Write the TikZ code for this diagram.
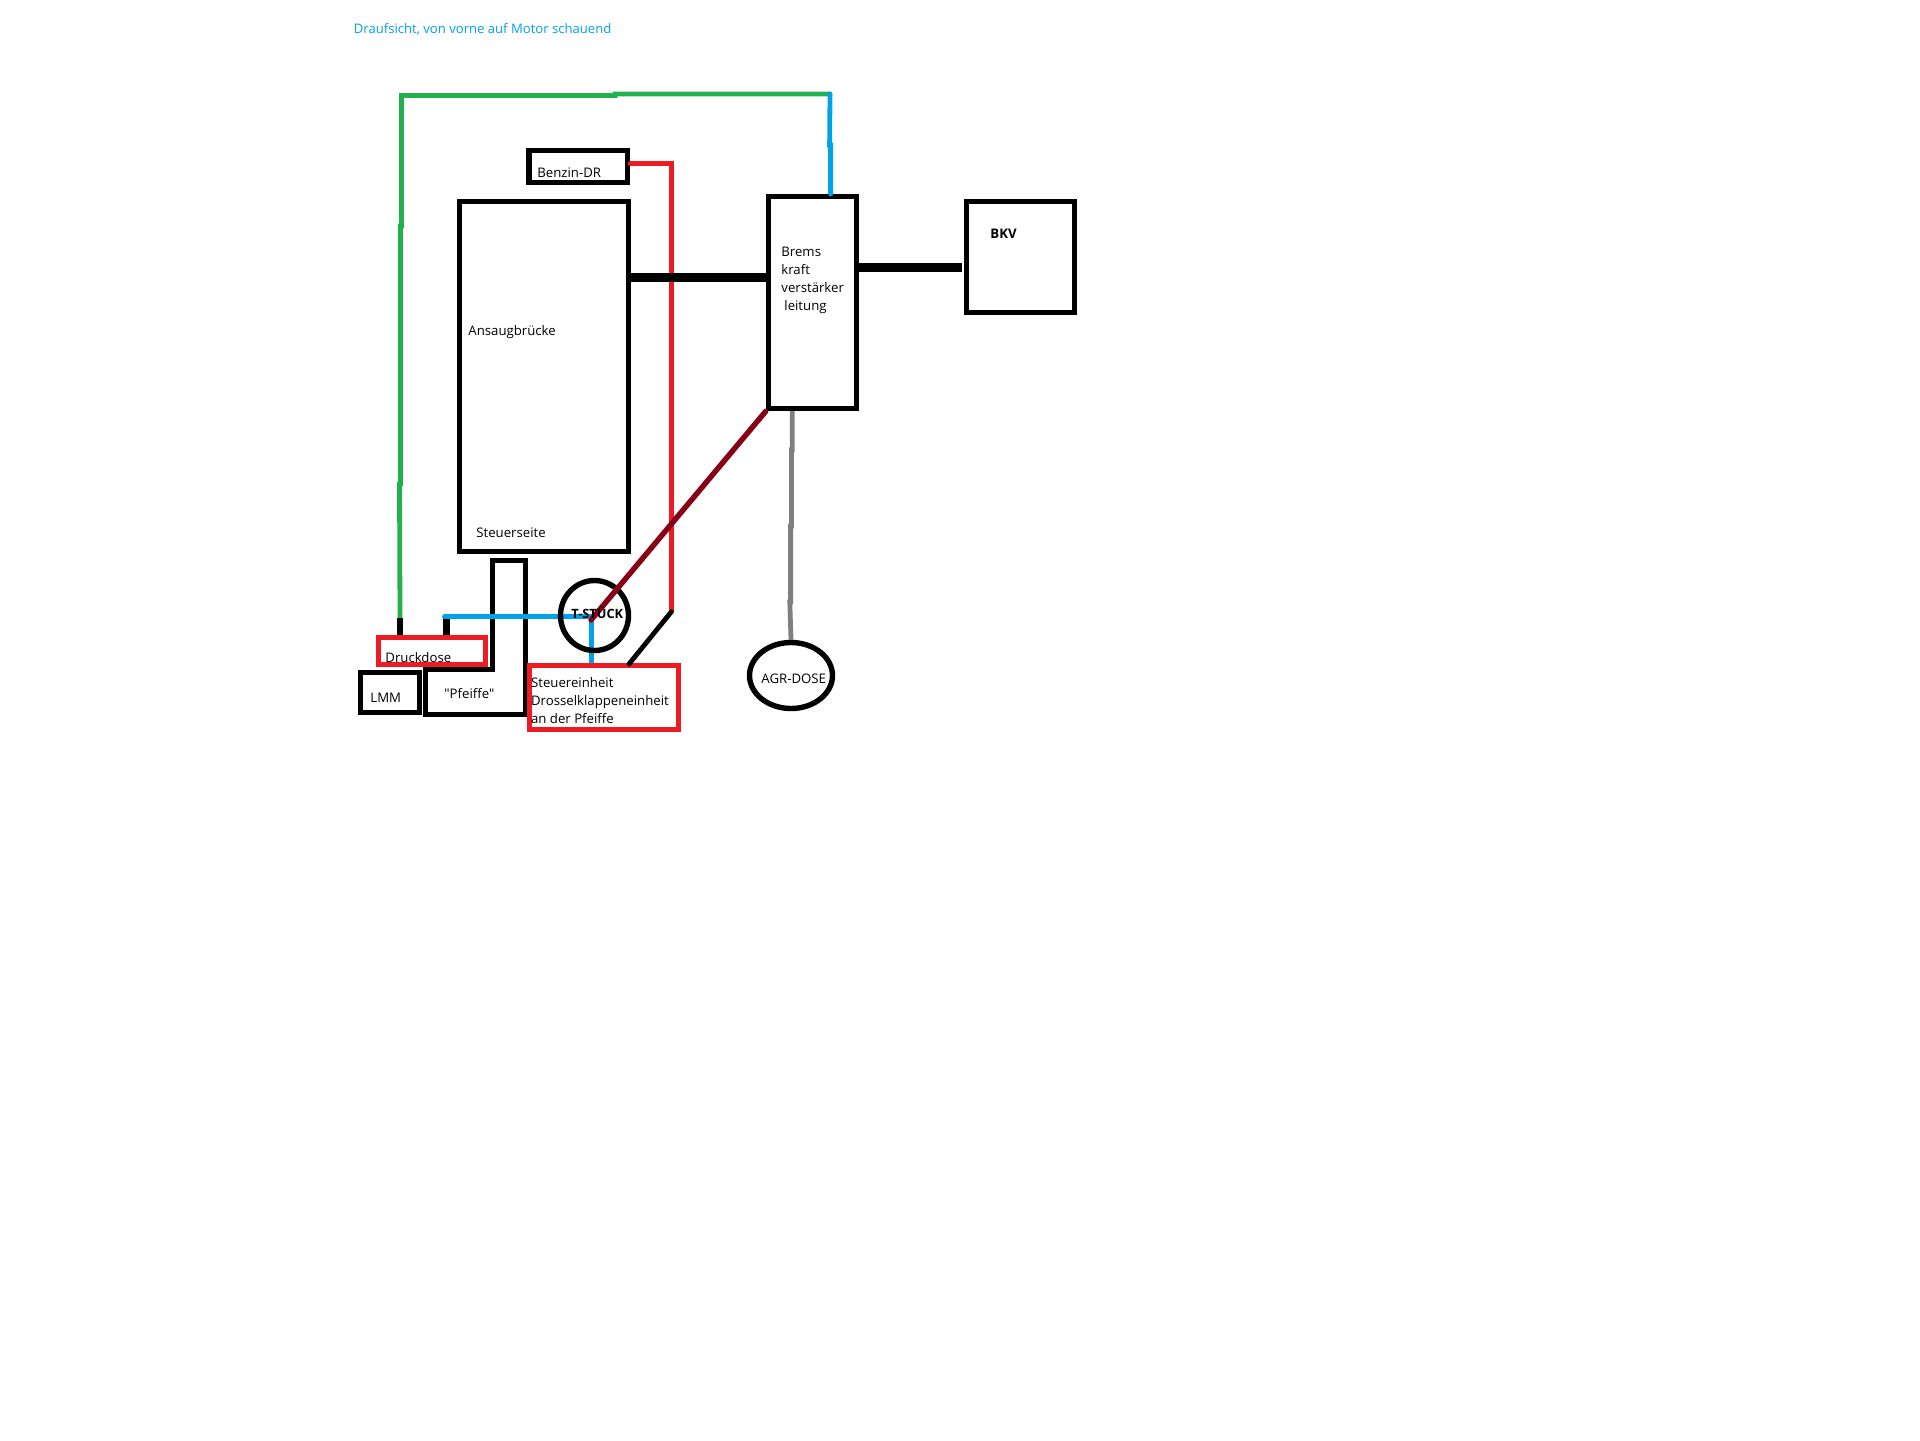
\documentclass[tikz,border=0pt]{standalone}
\usepackage{fontspec}
\setmainfont{Open Sans}
\newfontfamily\plainfont{Open Sans}
\usetikzlibrary{shapes.geometric}
\definecolor{pblue}{HTML}{00A2E8}
\definecolor{pred}{HTML}{ED1C24}
\definecolor{pgreen}{HTML}{22B14C}
\definecolor{pdark}{HTML}{880015}
\definecolor{pgray}{HTML}{7F7F7F}
\begin{document}
\begin{tikzpicture}[x=0.5pt,y=-0.5pt,
    box/.style={draw=black,line width=2.7pt,inner sep=0pt},
    redbox/.style={box,draw=pred},
    oval/.style={box,ellipse},
    pipe/.style={line width=2.4pt,line cap=round},
    stub/.style={line width=3.2pt},
    fat/.style={line width=4.5pt},
    txt/.style={anchor=west,inner sep=0pt,text=black,font=\fontsize{6.6}{9}\selectfont,align=left}]
    \useasboundingbox (0,0) rectangle (1920,1440);
    \node[txt,text=pblue,font=\fontsize{6.55}{9}\selectfont] (titel) at (353.5,29) {Draufsicht, von vorne auf Motor schauend};

    \node[box,minimum width=84.5pt,minimum height=175pt] (ansaug) at (544,376.5) {};
    \node[box,minimum width=49.25pt,minimum height=16pt] (benzin) at (578.25,166.5) {};
    \node[box,minimum width=44pt,minimum height=106pt] (brems) at (812.5,302.5) {};
    \node[box,minimum width=54pt,minimum height=55.5pt] (bkv) at (1020.5,257) {};
    \node[box,minimum width=29.5pt,minimum height=19.85pt] (lmm) at (390,692.4) {};
    \node[oval,minimum width=41.5pt,minimum height=33pt] (agr) at (791,675.5) {};

    % Pfeiffe
    \draw[line width=2.7pt] (492.5,560.7) -- (525.3,560.7) -- (525.3,714.3) -- (425.7,714.3)
        -- (425.7,669.3) -- (492.5,669.3) -- cycle;
    \node[redbox,minimum width=53.5pt,minimum height=13.5pt] (druck) at (432,651) {};
    \node[redbox,minimum width=74.5pt,minimum height=32pt] (steuer) at (604,697.5) {};

    \coordinate (gs) at (400,618);
    \coordinate (bt) at (830,94);
    \coordinate (bl) at (444.5,616.3);
    \coordinate (tj) at (591.7,616.3);
    \coordinate (tr) at (591,620);
    \coordinate (rk) at (671.4,611.7);
    \coordinate (sk) at (629,664);

    % lines
    \draw[pipe,pgreen] (gs) -- (399.5,484) -- (400.5,484) -- (400.5,226) -- (401.5,226)
        -- (401.5,95.5) -- (615,95.5) -- (615,94) -- (bt);
    \draw[stub] (gs) -- (gs |- druck.north);
    \draw[pipe,pblue] (bt) -- (829.6,145) -- (830.6,145) -- (830.6,194);
    \draw[pipe,pred] (benzin.east |- 0,163.3) -- (671.4,163.3) -- (rk);
    \draw[pipe] (rk) -- (sk);
    \draw[fat] (ansaug.east |- 0,277.3) -- (brems.west |- 0,277.3);
    \draw[fat] (brems.east |- 0,267.3) -- (962,267.3);
    \draw[pipe,pgray,line cap=butt] (792.3,411) -- (792.3,450) -- (791.5,450) -- (791.5,526)
        -- (790.6,526) -- (790.6,602) -- (789.8,602) -- (agr.north);
    \draw[stub] (446.3,618) -- (446.3,0 |- druck.north);
    \draw[pipe,pblue] (bl) -- (tj);
    \draw[pipe,pblue,line cap=butt] (tj) -- (tj |- steuer.north);
    \node[oval,minimum width=34pt,minimum height=35pt] (tstueck) at (594.5,615.5) {};
    \draw[pipe,pdark,line width=2.7pt] (tr) -- (brems.south west);

    % text
    \node[txt] (lansaug) at (468,332) {Ansaugbrücke};
    \node[txt] (lsteuerseite) at (476,533) {Steuerseite};
    \node[txt] (lbenzin) at (537,172.7) {Benzin-DR};
    \node[txt] (lbrems) at (781,280.5) {Brems\\kraft\\verstärker\\\hspace{1.5pt}leitung};
    \node[txt,font=\fontsize{6.6}{9}\selectfont\bfseries] (lbkv) at (990,234) {BKV};
    \node[txt] (lagr) at (761,679) {AGR-DOSE};
    \node[txt,font=\fontsize{6.4}{9}\selectfont\bfseries] (ltstueck) at (571,613) {T-STÜCK};
    \node[txt] (ldruck) at (385,658) {Druckdose};
    \node[txt] (llmm) at (370,698) {LMM};
    \node[txt] (lpfeiffe) at (444,693.5) {\plainfont"Pfeiffe"};
    \node[txt] (lsteuer) at (530.7,701) {Steuereinheit\\Drosselklappeneinheit\\an der Pfeiffe};
\end{tikzpicture}
\end{document}
